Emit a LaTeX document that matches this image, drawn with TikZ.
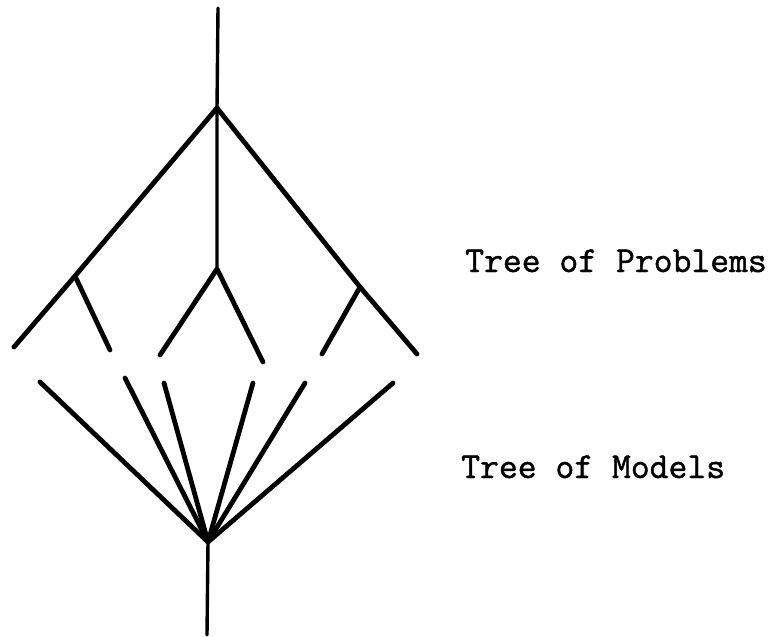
\documentclass[tikz,border=0pt]{standalone}
\usepackage{fontspec}
\newfontfamily\typewfont[FakeBold=1.2]{Latin Modern Mono}
\begin{document}
\begin{tikzpicture}[x=1pt,y=-1pt,
  branch/.style={line width=4.8pt,line cap=round,line join=round},
  stem/.style={line width=3.4pt,line cap=round},
  lbl/.style={anchor=base west,inner sep=0pt,font=\typewfont\fontsize{36.6}{40}\selectfont}]
\useasboundingbox (0,0) rectangle (779,637);
% tree of problems
\coordinate (ptop) at (218,8);
\coordinate (proot) at (217,108);
\coordinate (pmid) at (217,269);
\coordinate (pl) at (75,276);
\coordinate (pll) at (14,347);
\coordinate (plr) at (110,350);
\coordinate (pml) at (160,355);
\coordinate (pmr) at (263,362);
\coordinate (pr) at (360,287);
\coordinate (prr) at (417,354);
\coordinate (prl) at (322,354);
\draw[stem] (ptop) -- (proot) -- (pmid);
\draw[branch] (proot) -- (pl) -- (pll);
\draw[branch] (pl) -- (plr);
\draw[branch] (pml) -- (pmid) -- (pmr);
\draw[branch] (proot) -- (pr) -- (prr);
\draw[branch] (pr) -- (prl);
% tree of models
\coordinate (mroot) at (208,542);
\coordinate (mbot) at (207,635);
\coordinate (m1) at (40,382);
\coordinate (m2) at (125,378);
\coordinate (m3) at (164,383);
\coordinate (m4) at (253,383);
\coordinate (m5) at (305,383);
\coordinate (m6) at (393,383);
\draw[stem] (mroot) -- (mbot);
\foreach \m in {m1,m2,m3,m4,m5,m6} \draw[branch] (mroot) -- (\m);
\node[lbl] (tp) at (465,272) {Tree of Problems};
\node[lbl] (tm) at (461,478) {Tree of Models};
\end{tikzpicture}
\end{document}
